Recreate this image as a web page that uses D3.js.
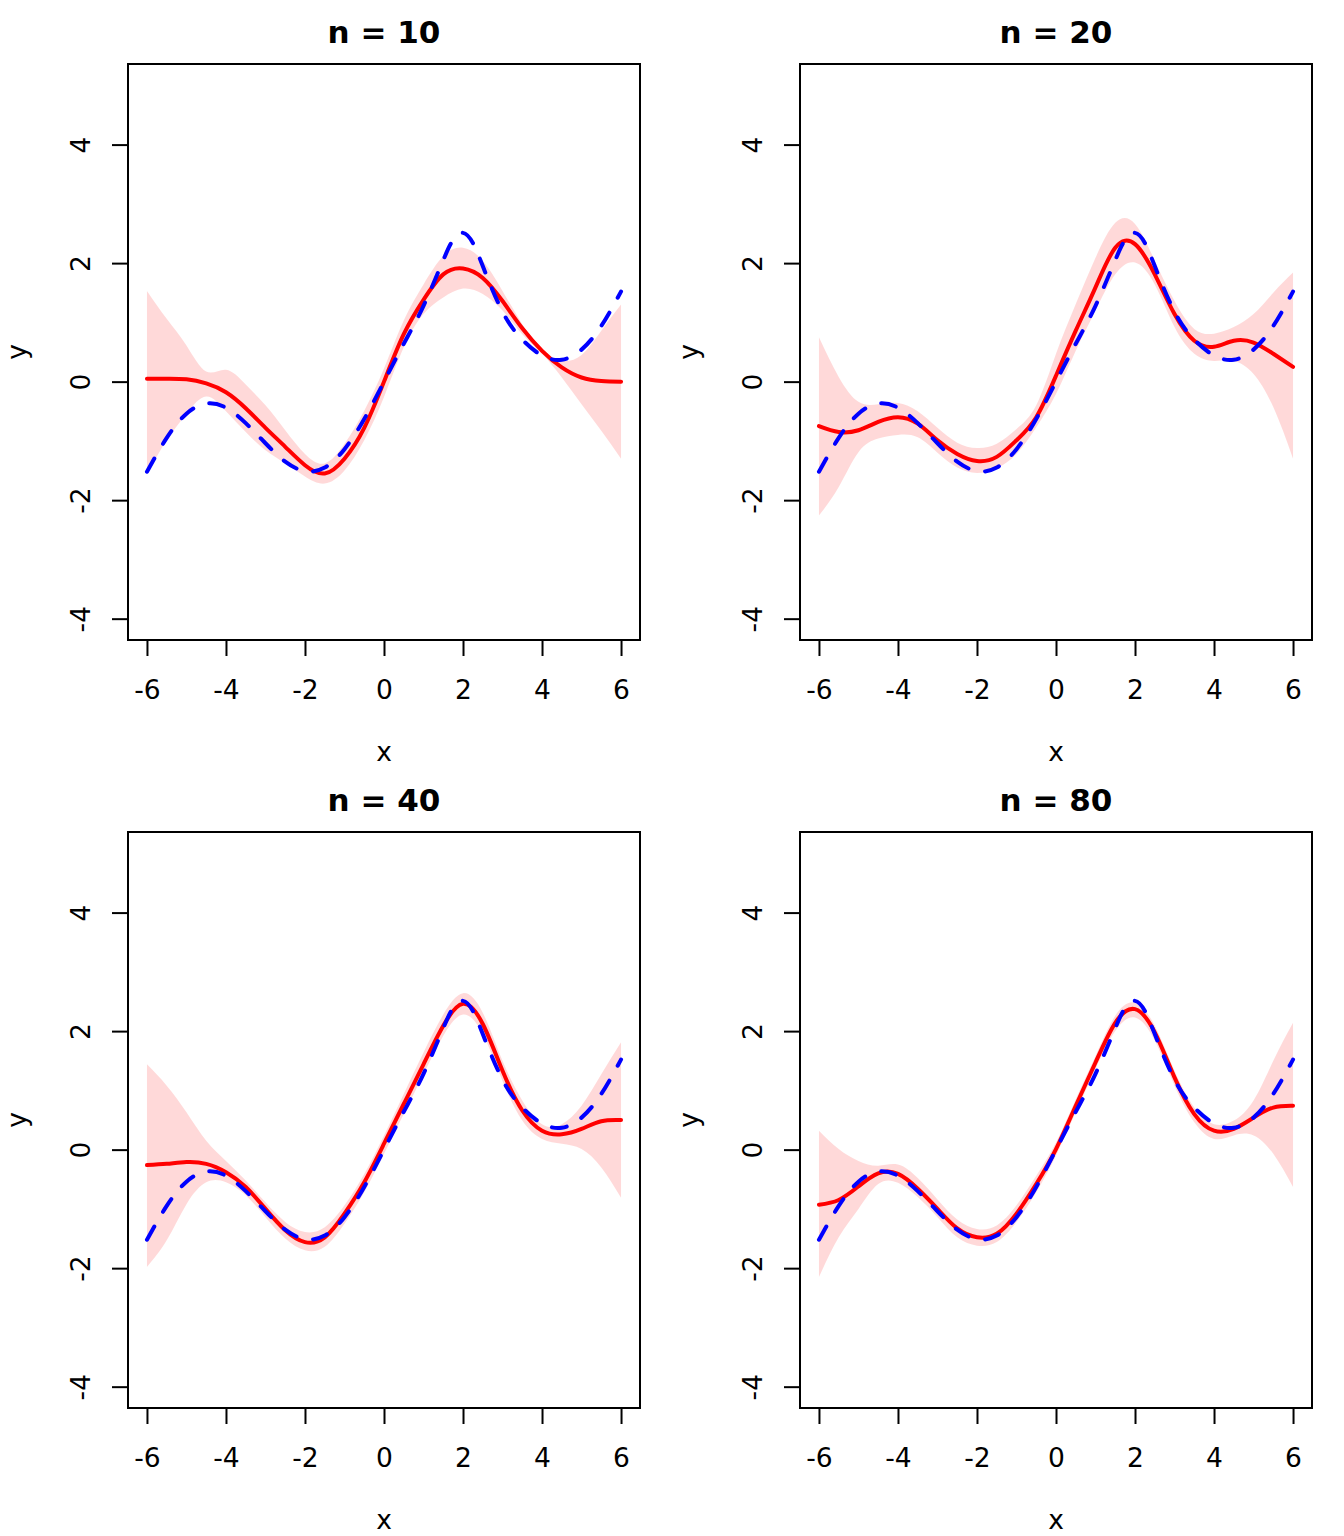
<!DOCTYPE html>
<html>
<head>
<meta charset="utf-8">
<script src="https://cdn.jsdelivr.net/npm/d3@7"></script>
<style>
  body { margin: 0; background: #fff; }
  svg { display: block; }
  text { font-family: "DejaVu Sans", sans-serif; fill: #000; }
</style>
</head>
<body>
<svg id="chart" width="1344" height="1536"></svg>
<script>
// ---- data ----
const titles = ["n = 10", "n = 20", "n = 40", "n = 80"];
const xTicks = [-6, -4, -2, 0, 2, 4, 6];
const yTicks = [-4, -2, 0, 2, 4];

const xGrid = [-6, -5.5, -5, -4.5, -4, -3.5, -3, -2.5, -2, -1.5, -1, -0.5, 0, 0.5, 1, 1.5, 2, 2.5, 3, 3.5, 4, 4.5, 5, 5.5, 6];

// true function (blue dashed)
const trueX = [-6, -5.5, -5, -4.5, -4, -3.5, -3, -2.5, -2, -1.5, -1, -0.5, 0, 0.5, 1, 1.5, 1.75, 2, 2.25, 2.5, 3, 3.5, 4, 4.5, 5, 5.5, 6];
const trueY = [-1.52, -0.95, -0.54, -0.37, -0.44, -0.70, -1.04, -1.35, -1.51, -1.45, -1.14, -0.63, 0.00, 0.64, 1.28, 2.05, 2.39, 2.51, 2.34, 1.95, 1.18, 0.71, 0.44, 0.37, 0.54, 0.94, 1.52];

// n = 10
const fit10 = [0.05, 0.05, 0.04, -0.03, -0.18, -0.45, -0.78, -1.10, -1.41, -1.55, -1.30, -0.78, 0.00, 0.80, 1.38, 1.81, 1.91, 1.75, 1.36, 0.90, 0.52, 0.24, 0.07, 0.01, 0.00];
const hi10  = [1.53, 1.06, 0.61, 0.17, 0.20, -0.05, -0.40, -0.82, -1.22, -1.38, -1.05, -0.49, 0.22, 1.03, 1.64, 2.12, 2.26, 2.04, 1.53, 0.97, 0.52, 0.35, 0.45, 0.86, 1.30];
const lo10  = [-1.56, -0.99, -0.54, -0.25, -0.50, -0.85, -1.16, -1.38, -1.60, -1.72, -1.50, -0.99, -0.26, 0.58, 1.14, 1.42, 1.57, 1.48, 1.20, 0.80, 0.47, 0.07, -0.38, -0.83, -1.30];

// n = 20
const fit20 = [-0.75, -0.85, -0.82, -0.68, -0.60, -0.71, -0.99, -1.22, -1.34, -1.27, -0.99, -0.60, 0.10, 0.86, 1.59, 2.26, 2.32, 1.81, 1.14, 0.69, 0.59, 0.69, 0.66, 0.47, 0.25];
const hi20  = [0.75, 0.08, -0.34, -0.38, -0.36, -0.50, -0.78, -1.03, -1.12, -1.05, -0.80, -0.40, 0.47, 1.31, 2.09, 2.68, 2.66, 2.04, 1.36, 0.89, 0.81, 0.92, 1.14, 1.50, 1.84];
const lo20  = [-2.26, -1.78, -1.19, -0.96, -0.90, -0.94, -1.20, -1.45, -1.54, -1.46, -1.22, -0.77, -0.21, 0.52, 1.20, 1.81, 2.01, 1.64, 0.92, 0.47, 0.35, 0.35, 0.13, -0.43, -1.30];

// n = 40
const fit40 = [-0.26, -0.24, -0.21, -0.24, -0.38, -0.63, -1.00, -1.36, -1.56, -1.48, -1.08, -0.55, 0.10, 0.77, 1.44, 2.09, 2.46, 2.12, 1.33, 0.66, 0.32, 0.26, 0.35, 0.48, 0.50];
const hi40  = [1.44, 1.08, 0.63, 0.15, -0.19, -0.52, -0.89, -1.22, -1.39, -1.31, -0.94, -0.41, 0.24, 0.94, 1.64, 2.28, 2.64, 2.31, 1.50, 0.83, 0.43, 0.43, 0.74, 1.27, 1.81];
const lo40  = [-1.98, -1.53, -0.92, -0.55, -0.55, -0.77, -1.14, -1.50, -1.70, -1.64, -1.25, -0.72, -0.07, 0.60, 1.27, 1.92, 2.28, 1.95, 1.16, 0.49, 0.18, 0.10, 0.01, -0.30, -0.81];

// n = 80
const fit80 = [-0.93, -0.85, -0.62, -0.40, -0.41, -0.66, -1.00, -1.33, -1.48, -1.42, -1.08, -0.58, 0.01, 0.74, 1.47, 2.14, 2.37, 1.98, 1.22, 0.60, 0.32, 0.35, 0.54, 0.71, 0.74];
const hi80  = [0.32, 0.01, -0.19, -0.27, -0.25, -0.48, -0.84, -1.18, -1.34, -1.28, -0.94, -0.44, 0.12, 0.85, 1.58, 2.26, 2.48, 2.09, 1.33, 0.71, 0.43, 0.49, 0.83, 1.50, 2.14];
const lo80  = [-2.15, -1.48, -1.00, -0.58, -0.56, -0.80, -1.14, -1.48, -1.62, -1.56, -1.22, -0.72, -0.10, 0.63, 1.36, 2.00, 2.23, 1.84, 1.08, 0.46, 0.18, 0.24, 0.24, -0.07, -0.63];

const fits = [fit10, fit20, fit40, fit80];
const his = [hi10, hi20, hi40, hi80];
const los = [lo10, lo20, lo40, lo80];

// ---- drawing ----
const svg = d3.select("#chart");
svg.append("rect").attr("width", 1344).attr("height", 1536).attr("fill", "#fff");

const L = 128, R = 640, T = 64, B = 640;
const trueData = trueX.map((v, j) => ({ x: v, y: trueY[j] }));

titles.forEach((title, i) => {
  const col = i % 2, row = Math.floor(i / 2);
  const g = svg.append("g").attr("transform", `translate(${col * 672},${row * 768})`);
  const x = d3.scaleLinear().domain([-6.48, 6.48]).range([L, R]);
  const y = d3.scaleLinear().domain([-4.36, 5.36]).range([B, T]);

  const clipId = "clip" + i;
  g.append("clipPath").attr("id", clipId)
    .append("rect").attr("x", L).attr("y", T).attr("width", R - L).attr("height", B - T);
  const plot = g.append("g").attr("clip-path", `url(#${clipId})`);

  const rows = xGrid.map((v, j) => ({ x: v, fit: fits[i][j], lo: los[i][j], hi: his[i][j] }));

  plot.append("path").datum(rows)
    .attr("d", d3.area().x(d => x(d.x)).y0(d => y(d.lo)).y1(d => y(d.hi)).curve(d3.curveNatural))
    .attr("fill", "rgba(255,0,0,0.15)").attr("stroke", "none");

  plot.append("path").datum(rows)
    .attr("d", d3.line().x(d => x(d.x)).y(d => y(d.fit)).curve(d3.curveNatural))
    .attr("fill", "none").attr("stroke", "#ff0000").attr("stroke-width", 4)
    .attr("stroke-linecap", "round").attr("stroke-linejoin", "round");

  plot.append("path").datum(trueData)
    .attr("d", d3.line().x(d => x(d.x)).y(d => y(d.y)).curve(d3.curveNatural))
    .attr("fill", "none").attr("stroke", "#0000ff").attr("stroke-width", 4)
    .attr("stroke-dasharray", "15,17")
    .attr("stroke-linecap", "round").attr("stroke-linejoin", "round");

  // box
  g.append("rect").attr("x", L).attr("y", T).attr("width", R - L).attr("height", B - T)
    .attr("fill", "none").attr("stroke", "#000").attr("stroke-width", 2);

  // x axis
  const xa = g.append("g").attr("transform", `translate(0,${B})`)
    .call(d3.axisBottom(x).tickValues(xTicks).tickFormat(d => String(d)).tickSize(16).tickSizeOuter(0));
  xa.select(".domain").remove();
  xa.selectAll(".tick line").attr("stroke", "#000").attr("stroke-width", 2);
  xa.selectAll(".tick text").attr("y", 59).attr("dy", null)
    .style("font-size", "26.5px").style("font-family", '"DejaVu Sans", sans-serif').attr("fill", "#000");

  // y axis
  const ya = g.append("g").attr("transform", `translate(${L},0)`)
    .call(d3.axisLeft(y).tickValues(yTicks).tickFormat(d => String(d)).tickSize(16).tickSizeOuter(0));
  ya.select(".domain").remove();
  ya.selectAll(".tick line").attr("stroke", "#000").attr("stroke-width", 2);
  ya.selectAll(".tick text").attr("transform", "rotate(-90)").attr("x", 0).attr("y", -38).attr("dy", null)
    .attr("text-anchor", "middle")
    .style("font-size", "26.5px").style("font-family", '"DejaVu Sans", sans-serif').attr("fill", "#000");

  // title
  g.append("text").attr("x", (L + R) / 2).attr("y", 43).attr("text-anchor", "middle")
    .style("font-weight", "bold").style("font-size", "31px").text(title);

  // axis labels
  g.append("text").attr("x", (L + R) / 2).attr("y", 761).attr("text-anchor", "middle")
    .style("font-size", "26.5px").text("x");
  g.append("text").attr("transform", `translate(26,${(T + B) / 2}) rotate(-90)`).attr("text-anchor", "middle")
    .style("font-size", "26.5px").text("y");
});
</script>
</body>
</html>
